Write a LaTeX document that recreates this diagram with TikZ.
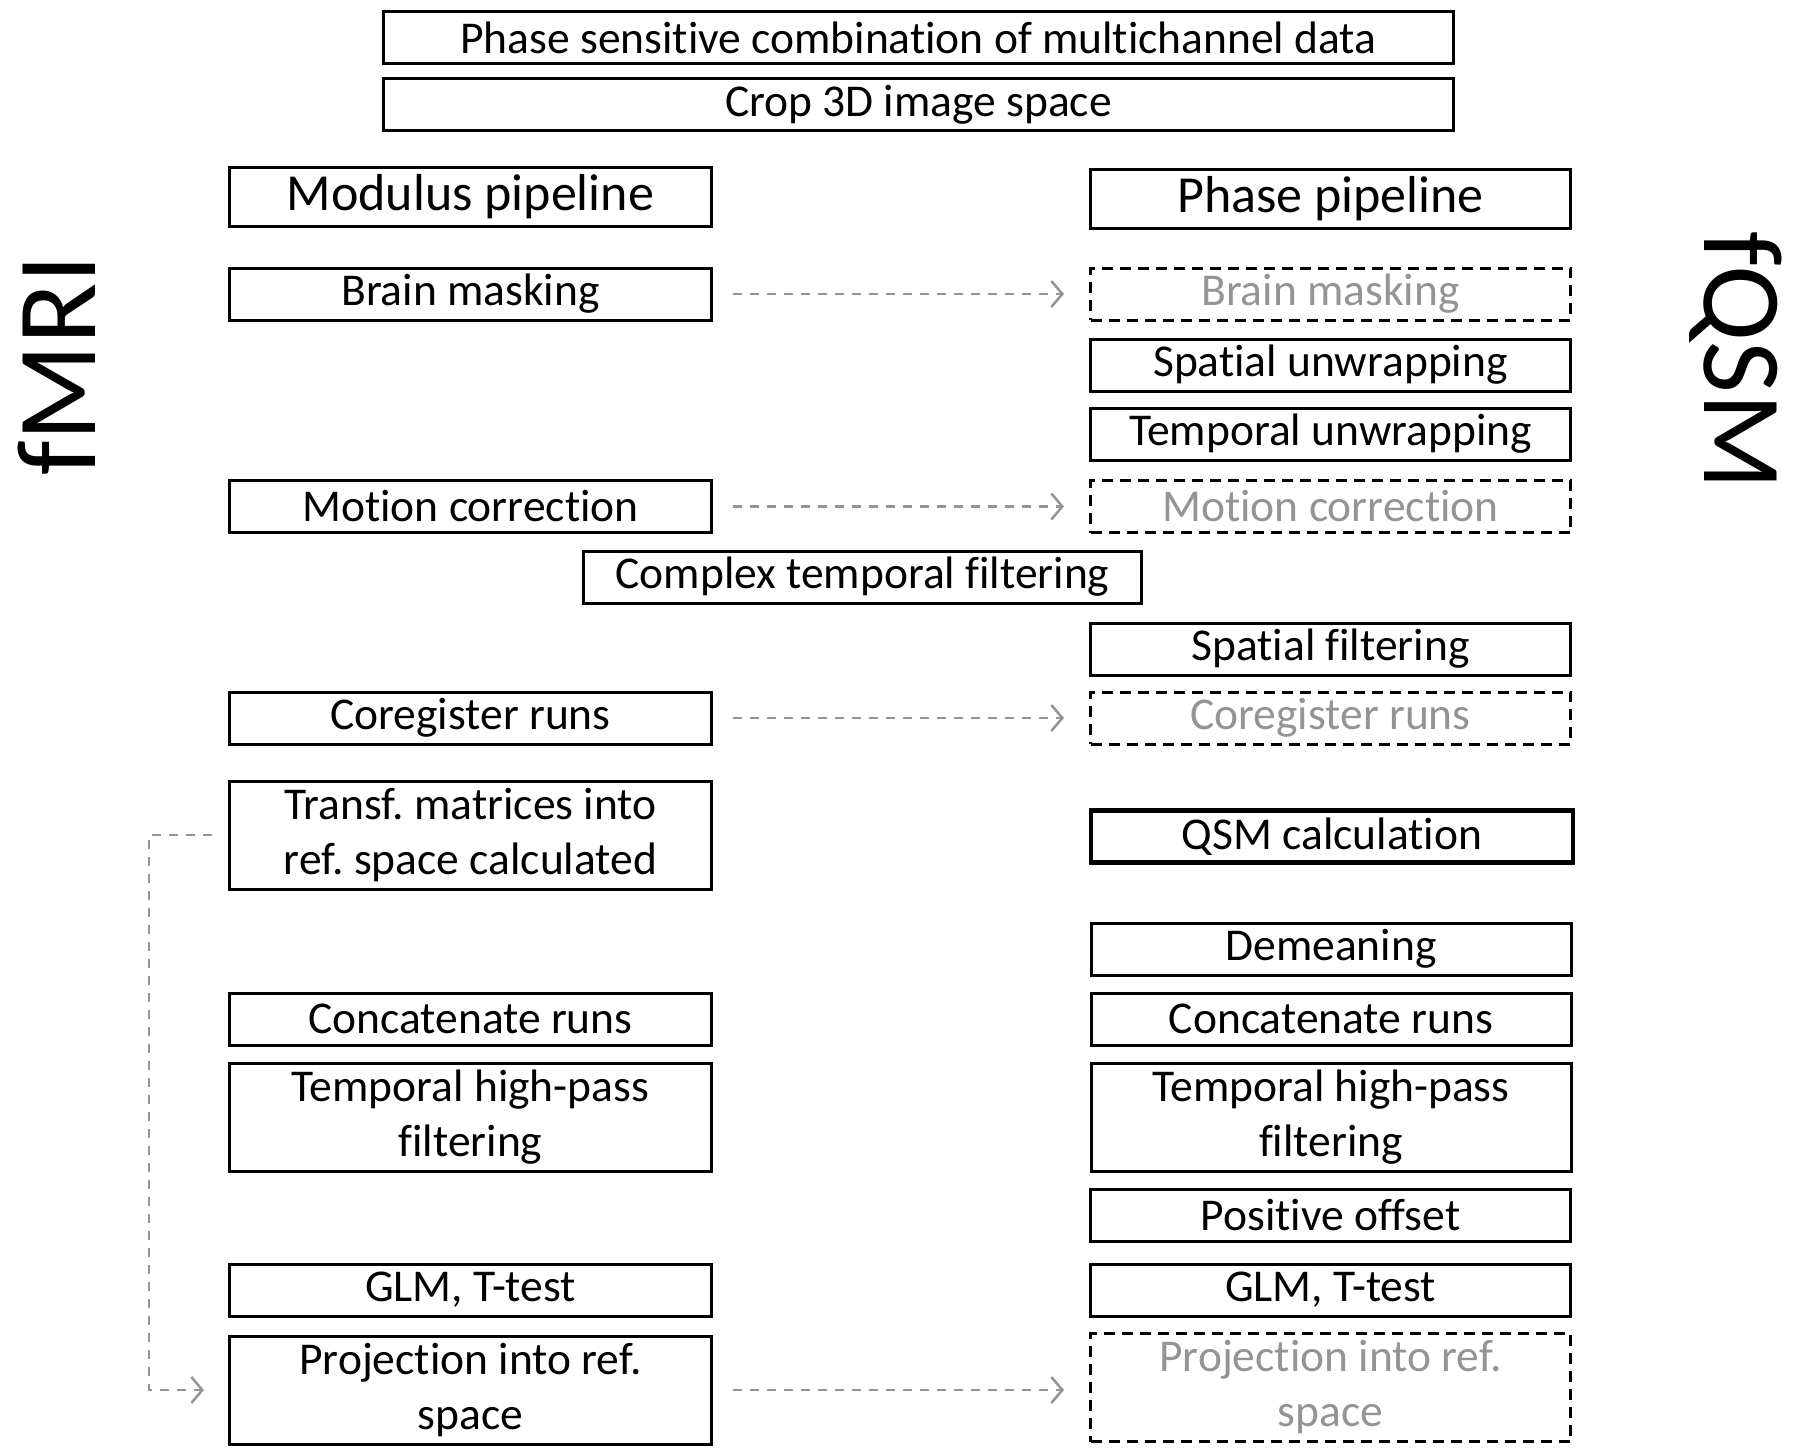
\documentclass[tikz,border=0pt]{standalone}
\usepackage{fontspec}
\setmainfont[RawFeature={-liga,-clig,-dlig,-calt}]{Carlito}
\usetikzlibrary{arrows.meta}
\frenchspacing
\begin{document}
\begin{tikzpicture}[x=1pt,y=-1pt,
	blk/.style={draw,line width=3pt,minimum height=52pt,inner sep=0pt,align=center,font=\fontsize{45.5}{55}\selectfont},
	lcol/.style={blk,minimum width=482pt},
	rcol/.style={blk,minimum width=480pt},
	ghost/.style={rcol,dash pattern=on 11pt off 7pt,text=black!42},
	tall/.style={minimum height=108pt},
	link/.style={draw=black!42,line width=2.5pt,dash pattern=on 9pt off 8pt,-{Straight Barb[length=11pt,width=26pt]}},
	side/.style={font=\fontsize{113}{113}\selectfont}]

	\useasboundingbox (0,0) rectangle (1797,1453);

	\node[blk,minimum width=1070pt] (comb) at (918.5,38) {Phase sensitive combination of multichannel data};
	\node[blk,minimum width=1070pt] (crop) at (918.5,105) {Crop 3D image space};

	\node[lcol,minimum height=59pt,font=\fontsize{52}{60}\selectfont] (modp) at (470.5,197) {Modulus pipeline};
	\node[rcol,minimum height=59pt,font=\fontsize{52}{60}\selectfont] (phsp) at (1330.5,199) {Phase pipeline};

	\node[lcol] (maskL) at (470.5,294) {Brain masking};
	\node[ghost] (maskR) at (1330.5,294) {Brain masking};
	\node[rcol] (sunwr) at (1330.5,365) {Spatial unwrapping};
	\node[rcol] (tunwr) at (1330.5,434) {Temporal unwrapping};
	\node[lcol] (motL) at (470.5,506.5) {Motion correction};
	\node[ghost] (motR) at (1330.5,506.5) {Motion correction};
	\node[blk,minimum width=558pt] (ctf) at (862.5,577) {Complex temporal filtering};
	\node[rcol] (sfilt) at (1330.5,649) {Spatial filtering};
	\node[lcol] (coregL) at (470.5,718) {Coregister runs};
	\node[ghost] (coregR) at (1330.5,718) {Coregister runs};
	\node[lcol,tall] (transf) at (470.5,835) {Transf. matrices into\\ref. space calculated};
	\node[rcol,line width=4.5pt,minimum width=482pt] (qsm) at (1332,836.5) {QSM calculation};
	\node[rcol] (demean) at (1331,949) {Demeaning};
	\node[lcol] (concL) at (470.5,1019) {Concatenate runs};
	\node[rcol] (concR) at (1331,1019) {Concatenate runs};
	\node[lcol,tall] (hpL) at (470.5,1117) {Temporal high-pass\\filtering};
	\node[rcol,tall] (hpR) at (1331,1117) {Temporal high-pass\\filtering};
	\node[rcol] (offset) at (1330.5,1215.5) {Positive offset};
	\node[lcol] (glmL) at (470.5,1290) {GLM, T-test};
	\node[rcol] (glmR) at (1330.5,1290) {GLM, T-test};
	\node[lcol,tall] (projL) at (470.5,1390) {Projection into ref.\\space};
	\node[ghost,tall] (projR) at (1330.5,1387.5) {Projection into ref.\\space};

	\node[side,rotate=90] (fmri) at (57,365) {fMRI};
	\node[side,rotate=-90] (fqsm) at (1736,361) {fQSM};

	\draw[link,shorten <=20pt,shorten >=25pt] (maskL) -- (maskR);
	\draw[link,shorten <=20pt,shorten >=25pt] (motL) -- (motR);
	\draw[link,shorten <=20pt,shorten >=25pt] (coregL) -- (coregR);
	\draw[link,shorten <=20pt,shorten >=25pt] (projL) -- (projR.west |- projL);
	\draw[link,shorten <=16pt,shorten >=24pt] (transf.west) -- ++(-79,0) |- (projL.west);
\end{tikzpicture}
\end{document}
